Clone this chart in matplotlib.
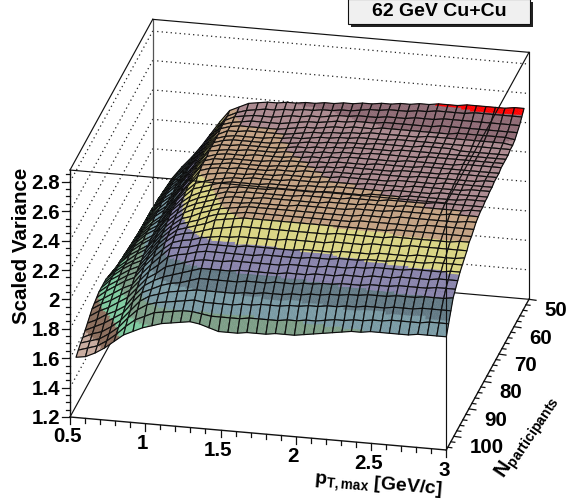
import matplotlib
matplotlib.use("Agg")
import matplotlib.pyplot as plt
import numpy as np
from matplotlib.collections import PolyCollection
from matplotlib.patches import Rectangle

plt.rcParams["font.family"] = ["Liberation Sans", "DejaVu Sans"]
plt.rcParams["mathtext.fontset"] = "custom"
plt.rcParams["mathtext.rm"] = "Liberation Sans:bold"
plt.rcParams["mathtext.bf"] = "Liberation Sans:bold"
plt.rcParams["mathtext.it"] = "Liberation Sans:bold"

TITLE = "62 GeV Cu+Cu"
Z_LABEL = "Scaled Variance"
X_LABEL = r"$\mathrm{p_{T,max}}$ [GeV/c]"
N_LABEL = r"$\mathrm{N_{participants}}$"

X_RANGE = (0.5, 3.0)
N_RANGE = (105.0, 50.0)
Z_RANGE = (1.2, 2.88)

X_TICKS = [0.5, 1, 1.5, 2, 2.5, 3]
X_TICK_LABELS = ["0.5", "1", "1.5", "2", "2.5", "3"]
N_TICKS = [100, 90, 80, 70, 60, 50]
Z_TICKS = [1.2, 1.4, 1.6, 1.8, 2, 2.2, 2.4, 2.6, 2.8]
Z_TICK_LABELS = ["1.2", "1.4", "1.6", "1.8", "2", "2.2", "2.4", "2.6", "2.8"]

# colour bands of the surface (edges in z, one colour more than edges)
BAND_EDGES = [1.681, 1.773, 1.866, 1.958, 2.05, 2.142, 2.234, 2.327, 2.39, 2.46, 2.535]
BAND_COLORS = ["#c9ac9f", "#8c6e5d", "#7fcba0", "#7d9e87", "#7a9ba5", "#637a85",
               "#8984ac", "#dad584", "#c4a283", "#ac8a90", "#8f6b75", "#ff0000"]

# surface nodes: one row per N value (front to back), one column per pT,max value
X_NODES = np.linspace(0.54, 3.0, 40)
N_NODES = np.linspace(105.0, 53.3, 35)
Z_ROWS = [
    [1.61,1.62,1.65,1.69,1.74,1.79,1.82,1.85,1.87,1.89,1.90,1.91,1.92,1.91,1.89,1.87,1.87,1.87,1.88,1.88,1.88,1.89,1.89,1.89,1.90,1.91,1.92,1.93,1.94,1.95,1.95,1.96,1.96,1.96,1.96,1.96,1.97,1.97,1.97,1.97],
    [1.63,1.65,1.67,1.71,1.76,1.82,1.87,1.90,1.93,1.94,1.95,1.96,1.96,1.95,1.94,1.94,1.94,1.94,1.95,1.95,1.95,1.95,1.96,1.96,1.97,1.97,1.98,1.99,1.99,2.00,2.00,2.01,2.01,2.02,2.02,2.02,2.02,2.03,2.03,2.03],
    [1.65,1.67,1.69,1.73,1.78,1.85,1.91,1.95,1.97,1.98,1.99,2.00,2.01,2.00,2.00,2.00,2.00,2.01,2.01,2.02,2.02,2.02,2.03,2.03,2.04,2.04,2.05,2.05,2.06,2.06,2.07,2.07,2.07,2.08,2.08,2.08,2.09,2.09,2.09,2.09],
    [1.66,1.69,1.71,1.75,1.80,1.87,1.94,1.98,2.00,2.02,2.03,2.04,2.05,2.05,2.05,2.05,2.05,2.06,2.06,2.07,2.07,2.07,2.08,2.08,2.09,2.09,2.10,2.10,2.11,2.11,2.12,2.12,2.12,2.13,2.13,2.13,2.14,2.14,2.14,2.15],
    [1.68,1.71,1.74,1.78,1.82,1.90,1.97,2.00,2.03,2.05,2.06,2.08,2.10,2.10,2.10,2.10,2.10,2.11,2.11,2.11,2.12,2.12,2.12,2.13,2.13,2.14,2.14,2.15,2.15,2.15,2.16,2.16,2.16,2.17,2.17,2.17,2.17,2.18,2.18,2.18],
    [1.70,1.73,1.77,1.80,1.84,1.92,1.99,2.03,2.06,2.08,2.10,2.12,2.14,2.14,2.14,2.14,2.15,2.15,2.15,2.15,2.15,2.16,2.16,2.16,2.17,2.17,2.17,2.18,2.18,2.18,2.19,2.19,2.19,2.20,2.20,2.20,2.20,2.21,2.21,2.21],
    [1.72,1.76,1.79,1.83,1.87,1.94,2.01,2.05,2.10,2.12,2.14,2.16,2.17,2.17,2.17,2.18,2.18,2.18,2.18,2.18,2.18,2.19,2.19,2.19,2.19,2.20,2.20,2.20,2.21,2.21,2.22,2.22,2.22,2.22,2.23,2.23,2.23,2.23,2.24,2.24],
    [1.74,1.78,1.81,1.85,1.89,1.96,2.03,2.08,2.14,2.16,2.17,2.19,2.20,2.20,2.20,2.20,2.20,2.20,2.21,2.21,2.21,2.21,2.21,2.22,2.22,2.22,2.23,2.23,2.23,2.24,2.24,2.24,2.25,2.25,2.25,2.25,2.26,2.26,2.26,2.26],
    [1.75,1.79,1.83,1.87,1.90,1.98,2.05,2.11,2.17,2.18,2.19,2.21,2.22,2.22,2.22,2.22,2.23,2.23,2.23,2.23,2.23,2.23,2.24,2.24,2.24,2.24,2.25,2.25,2.25,2.25,2.26,2.26,2.26,2.26,2.27,2.27,2.27,2.27,2.27,2.28],
    [1.76,1.81,1.85,1.89,1.92,2.00,2.07,2.13,2.18,2.20,2.21,2.23,2.24,2.25,2.25,2.26,2.26,2.26,2.26,2.26,2.27,2.27,2.27,2.27,2.27,2.28,2.28,2.28,2.28,2.29,2.29,2.29,2.29,2.30,2.30,2.30,2.30,2.30,2.30,2.30],
    [1.77,1.82,1.86,1.90,1.93,2.01,2.09,2.15,2.20,2.22,2.23,2.25,2.27,2.28,2.29,2.30,2.30,2.30,2.30,2.30,2.30,2.30,2.30,2.30,2.30,2.31,2.31,2.31,2.31,2.31,2.31,2.32,2.32,2.32,2.32,2.32,2.32,2.32,2.33,2.33],
    [1.77,1.83,1.87,1.91,1.94,2.02,2.10,2.16,2.21,2.23,2.25,2.27,2.30,2.31,2.32,2.33,2.33,2.33,2.33,2.33,2.33,2.33,2.33,2.33,2.33,2.33,2.33,2.33,2.33,2.33,2.33,2.34,2.34,2.34,2.34,2.34,2.34,2.34,2.34,2.34],
    [1.77,1.83,1.88,1.92,1.95,2.03,2.11,2.17,2.22,2.24,2.26,2.29,2.31,2.32,2.33,2.34,2.34,2.34,2.34,2.34,2.34,2.34,2.34,2.34,2.34,2.34,2.34,2.35,2.35,2.35,2.35,2.35,2.35,2.35,2.36,2.36,2.36,2.36,2.36,2.36],
    [1.77,1.83,1.88,1.92,1.96,2.04,2.12,2.18,2.23,2.25,2.28,2.30,2.32,2.33,2.34,2.35,2.35,2.35,2.35,2.35,2.35,2.35,2.35,2.35,2.35,2.35,2.35,2.36,2.36,2.36,2.36,2.37,2.37,2.37,2.37,2.37,2.37,2.37,2.38,2.38],
    [1.76,1.83,1.88,1.93,1.97,2.05,2.13,2.19,2.24,2.27,2.29,2.31,2.33,2.34,2.34,2.35,2.35,2.35,2.35,2.35,2.36,2.36,2.36,2.36,2.36,2.36,2.37,2.37,2.37,2.37,2.38,2.38,2.38,2.38,2.38,2.38,2.39,2.39,2.39,2.39],
    [1.75,1.83,1.89,1.93,1.97,2.06,2.14,2.20,2.25,2.28,2.30,2.32,2.34,2.35,2.35,2.35,2.36,2.36,2.36,2.36,2.36,2.36,2.36,2.37,2.37,2.37,2.37,2.38,2.38,2.38,2.38,2.39,2.39,2.39,2.39,2.39,2.39,2.39,2.40,2.40],
    [1.74,1.82,1.89,1.94,1.98,2.07,2.15,2.21,2.26,2.29,2.31,2.33,2.35,2.35,2.36,2.36,2.36,2.36,2.36,2.36,2.37,2.37,2.37,2.37,2.37,2.38,2.38,2.38,2.38,2.39,2.39,2.39,2.39,2.39,2.40,2.40,2.40,2.40,2.40,2.40],
    [1.73,1.82,1.89,1.94,1.98,2.07,2.16,2.22,2.27,2.30,2.32,2.34,2.35,2.36,2.36,2.36,2.36,2.37,2.37,2.37,2.37,2.37,2.38,2.38,2.38,2.38,2.38,2.39,2.39,2.39,2.39,2.40,2.40,2.40,2.40,2.40,2.40,2.41,2.41,2.41],
    [1.72,1.82,1.89,1.95,1.99,2.08,2.16,2.23,2.29,2.31,2.33,2.35,2.36,2.36,2.36,2.36,2.37,2.37,2.37,2.37,2.38,2.38,2.38,2.39,2.39,2.39,2.39,2.39,2.39,2.40,2.40,2.40,2.40,2.40,2.41,2.41,2.41,2.41,2.41,2.41],
    [1.72,1.81,1.89,1.95,1.99,2.08,2.17,2.24,2.30,2.32,2.34,2.35,2.36,2.36,2.37,2.37,2.37,2.37,2.38,2.38,2.38,2.38,2.39,2.39,2.39,2.39,2.40,2.40,2.40,2.40,2.40,2.41,2.41,2.41,2.41,2.41,2.41,2.42,2.42,2.42],
    [1.71,1.81,1.89,1.95,2.00,2.09,2.17,2.25,2.32,2.34,2.35,2.36,2.36,2.36,2.37,2.37,2.37,2.38,2.38,2.38,2.38,2.39,2.39,2.40,2.40,2.40,2.40,2.40,2.40,2.41,2.41,2.41,2.41,2.41,2.42,2.42,2.42,2.42,2.42,2.42],
    [1.71,1.81,1.89,1.95,2.00,2.09,2.17,2.25,2.33,2.35,2.36,2.36,2.37,2.37,2.37,2.37,2.38,2.38,2.38,2.39,2.39,2.39,2.40,2.40,2.40,2.40,2.41,2.41,2.41,2.41,2.41,2.42,2.42,2.42,2.42,2.42,2.42,2.42,2.43,2.43],
    [1.70,1.81,1.89,1.96,2.01,2.10,2.18,2.26,2.34,2.35,2.36,2.37,2.37,2.37,2.37,2.37,2.38,2.38,2.39,2.39,2.39,2.40,2.40,2.41,2.41,2.41,2.41,2.41,2.41,2.42,2.42,2.42,2.42,2.42,2.43,2.43,2.43,2.43,2.43,2.43],
    [1.70,1.80,1.89,1.96,2.01,2.10,2.18,2.26,2.34,2.36,2.36,2.37,2.37,2.37,2.37,2.38,2.38,2.39,2.39,2.39,2.40,2.40,2.41,2.41,2.41,2.41,2.42,2.42,2.42,2.42,2.42,2.43,2.43,2.43,2.43,2.43,2.43,2.43,2.43,2.43],
    [1.69,1.80,1.89,1.96,2.02,2.10,2.18,2.27,2.34,2.36,2.37,2.37,2.37,2.38,2.38,2.38,2.38,2.39,2.39,2.40,2.40,2.41,2.41,2.42,2.42,2.42,2.42,2.42,2.42,2.43,2.43,2.43,2.43,2.43,2.43,2.44,2.44,2.44,2.44,2.44],
    [1.69,1.80,1.89,1.97,2.02,2.11,2.19,2.27,2.35,2.36,2.37,2.37,2.38,2.38,2.38,2.38,2.39,2.39,2.40,2.40,2.41,2.41,2.42,2.42,2.42,2.43,2.43,2.43,2.43,2.43,2.43,2.44,2.44,2.44,2.44,2.44,2.44,2.44,2.44,2.44],
    [1.68,1.80,1.89,1.97,2.02,2.11,2.19,2.27,2.35,2.37,2.37,2.38,2.38,2.38,2.38,2.38,2.39,2.40,2.40,2.41,2.41,2.42,2.42,2.43,2.43,2.43,2.43,2.43,2.44,2.44,2.44,2.44,2.44,2.44,2.44,2.44,2.44,2.44,2.44,2.44],
    [1.68,1.80,1.89,1.97,2.03,2.11,2.19,2.28,2.35,2.37,2.38,2.38,2.38,2.38,2.38,2.39,2.39,2.40,2.41,2.41,2.42,2.42,2.43,2.43,2.43,2.44,2.44,2.44,2.44,2.44,2.45,2.45,2.45,2.45,2.44,2.44,2.44,2.44,2.44,2.44],
    [1.68,1.80,1.89,1.97,2.03,2.12,2.20,2.28,2.35,2.37,2.38,2.38,2.38,2.38,2.39,2.39,2.40,2.40,2.41,2.42,2.42,2.43,2.43,2.44,2.44,2.44,2.44,2.45,2.45,2.45,2.45,2.45,2.45,2.45,2.45,2.45,2.45,2.45,2.45,2.45],
    [1.67,1.80,1.89,1.97,2.03,2.12,2.20,2.28,2.35,2.38,2.38,2.39,2.39,2.39,2.39,2.39,2.40,2.41,2.42,2.42,2.43,2.43,2.44,2.44,2.45,2.45,2.45,2.45,2.45,2.45,2.46,2.46,2.46,2.46,2.46,2.46,2.46,2.46,2.46,2.45],
    [1.67,1.79,1.89,1.97,2.03,2.12,2.20,2.28,2.36,2.38,2.39,2.39,2.39,2.39,2.39,2.40,2.41,2.42,2.42,2.43,2.44,2.44,2.45,2.45,2.45,2.46,2.46,2.46,2.46,2.46,2.46,2.46,2.46,2.47,2.47,2.47,2.47,2.47,2.47,2.46],
    [1.67,1.79,1.89,1.97,2.03,2.12,2.20,2.28,2.36,2.38,2.39,2.40,2.40,2.40,2.40,2.41,2.42,2.43,2.43,2.44,2.45,2.45,2.46,2.46,2.46,2.47,2.47,2.47,2.47,2.47,2.47,2.48,2.48,2.48,2.48,2.48,2.48,2.48,2.48,2.48],
    [1.66,1.79,1.88,1.96,2.03,2.12,2.20,2.28,2.36,2.39,2.40,2.41,2.41,2.41,2.42,2.43,2.43,2.44,2.44,2.45,2.46,2.46,2.47,2.47,2.47,2.48,2.48,2.48,2.49,2.49,2.49,2.50,2.50,2.50,2.50,2.50,2.50,2.50,2.50,2.50],
    [1.66,1.78,1.88,1.96,2.03,2.11,2.20,2.28,2.36,2.39,2.41,2.42,2.43,2.43,2.44,2.44,2.45,2.45,2.46,2.46,2.47,2.47,2.48,2.49,2.49,2.50,2.50,2.50,2.51,2.51,2.52,2.52,2.52,2.52,2.53,2.53,2.53,2.53,2.53,2.53],
    [1.66,1.78,1.88,1.96,2.03,2.11,2.20,2.29,2.37,2.40,2.43,2.44,2.45,2.45,2.46,2.46,2.47,2.47,2.48,2.48,2.49,2.49,2.50,2.50,2.51,2.51,2.52,2.52,2.53,2.53,2.54,2.54,2.54,2.55,2.55,2.55,2.55,2.55,2.56,2.56],
]

SUBDIV = 4
TICK_FONT = 14.8


def project(x, n, z):
    """3D box -> picture pixels (parallel projection, same as the ROOT canvas)."""
    u = (np.asarray(x, float) - X_RANGE[0]) / (X_RANGE[1] - X_RANGE[0])
    v = (N_RANGE[0] - np.asarray(n, float)) / (N_RANGE[0] - N_RANGE[1])
    w = np.asarray(z, float) - Z_RANGE[0]
    return 70 + 376.3 * u + 82.7 * v, 417 + 33 * u - 150.7 * v - 147 * w


def line3d(ax, p0, p1, **kw):
    px, py = project(*zip(p0, p1))
    ax.plot(px, py, solid_capstyle="projecting", **kw)


def draw_surface(ax):
    z_grid = np.array(Z_ROWS)
    band_rgb = [matplotlib.colors.to_rgb(c) for c in BAND_COLORS]
    t = np.linspace(0, 1, SUBDIV + 1)
    polys, faces, edges, widths = [], [], [], []
    # back row first, left column first: the camera sits at high pT, high N
    for j in range(len(N_NODES) - 2, -1, -1):
        for i in range(len(X_NODES) - 1):
            sx = X_NODES[i] + t * (X_NODES[i + 1] - X_NODES[i])
            sn = N_NODES[j] + t * (N_NODES[j + 1] - N_NODES[j])
            gx, gn = np.meshgrid(sx, sn)
            a, b = np.meshgrid(t, t)
            gz = (z_grid[j, i] * (1 - a) * (1 - b) + z_grid[j, i + 1] * a * (1 - b)
                  + z_grid[j + 1, i] * (1 - a) * b + z_grid[j + 1, i + 1] * a * b)
            px, py = project(gx, gn, gz)
            for q in range(SUBDIV):
                for r in range(SUBDIV):
                    idx = [(q, r), (q, r + 1), (q + 1, r + 1), (q + 1, r)]
                    polys.append([(px[k], py[k]) for k in idx])
                    mean_z = np.mean([gz[k] for k in idx])
                    col = band_rgb[np.searchsorted(BAND_EDGES, mean_z)]
                    faces.append(col)
                    edges.append(col)
                    widths.append(0.35)
            outline = [(0, 0), (0, SUBDIV), (SUBDIV, SUBDIV), (SUBDIV, 0)]
            polys.append([(px[k], py[k]) for k in outline])
            faces.append((0, 0, 0, 0))
            edges.append((0.05, 0.05, 0.05, 1))
            widths.append(0.85)
    ax.add_collection(PolyCollection(polys, facecolors=faces, edgecolors=edges,
                                     linewidths=widths, zorder=3))


fig = plt.figure(figsize=(5.84, 5.01), dpi=100)
ax = fig.add_axes([0, 0, 1, 1])
ax.set_xlim(0, 584)
ax.set_ylim(501, 0)
ax.axis("off")

x0, x1 = X_RANGE
n0, n1 = N_RANGE
z0, z1 = Z_RANGE
frame = dict(color="#111111", lw=0.85, zorder=2)
dots = dict(color="#222222", lw=0.9, ls=(0, (1, 2.6)), zorder=1)

# walls: dotted z grid, back box lines
for zt in Z_TICKS[1:]:
    line3d(ax, (x0, n0, zt), (x0, n1, zt), **dots)
    line3d(ax, (x0, n1, zt), (x1, n1, zt), **dots)
line3d(ax, (x0, n1, z0), (x0, n1, z1), color="#555555", lw=0.9, zorder=2)
line3d(ax, (x1, n1, z0), (x1, n1, z1), **frame)
line3d(ax, (x0, n0, z1), (x0, n1, z1), **frame)
line3d(ax, (x0, n1, z1), (x1, n1, z1), **frame)
line3d(ax, (x0, n0, z0), (x0, n1, z0), **frame)
line3d(ax, (x0, n1, z0), (x1, n1, z0), **frame)

draw_surface(ax)

# front of the box goes over the surface
front = dict(color="#111111", lw=0.85, zorder=4)
line3d(ax, (x0, n0, z1), (x1, n0, z1), **front)
line3d(ax, (x1, n0, z1), (x1, n1, z1), **front)
line3d(ax, (x1, n0, z0), (x1, n0, z1), **front)
line3d(ax, (x0, n0, z0), (x0, n0, z1), color="#111111", lw=1.0, zorder=4)
line3d(ax, (x0, n0, z0), (x1, n0, z0), color="#111111", lw=1.0, zorder=4)
line3d(ax, (x1, n0, z0), (x1, n1, z0), color="#111111", lw=1.0, zorder=4)

# z axis ticks and labels
tick_kw = dict(color="#111111", lw=0.9, zorder=4)
for zt in np.arange(1.2, 2.86, 0.05):
    px, py = project(x0, n0, zt)
    major = abs(zt * 5 - round(zt * 5)) < 1e-6
    ax.plot([px - (8 if major else 4), px], [py, py], **tick_kw)
for zt, lab in zip(Z_TICKS, Z_TICK_LABELS):
    px, py = project(x0, n0, zt)
    ax.text(px - 10, py, lab, ha="right", va="center_baseline", fontsize=TICK_FONT, fontweight="bold")

# pT axis ticks and labels
for xt in np.arange(0.5, 3.01, 0.1):
    px, py = project(xt, n0, z0)
    major = abs(xt * 2 - round(xt * 2)) < 1e-6
    ax.plot([px, px], [py, py + (7 if major else 4.5)], **tick_kw)
for xt, lab in zip(X_TICKS, X_TICK_LABELS):
    px, py = project(xt, n0, z0)
    ax.text(px - 2.5, py + 18, lab, ha="center", va="center_baseline", fontsize=TICK_FONT, fontweight="bold")

# N axis ticks and labels
for nt in range(50, 105, 2):
    px, py = project(x1, nt, z0)
    ax.plot([px, px + (7 if nt % 10 == 0 else 4)], [py, py + (1 if nt % 10 == 0 else 0.5)], **tick_kw)
for nt in N_TICKS:
    px, py = project(x1, nt, z0)
    ax.text(px + 15.5, py + 9.5, str(nt), ha="left", va="center_baseline", fontsize=TICK_FONT, fontweight="bold")

ax.text(22, 246, Z_LABEL, rotation=90, ha="center", va="center", fontsize=14.8, fontweight="bold")
ax.text(378, 485, X_LABEL, rotation=-5, rotation_mode="anchor", ha="center", va="center",
        fontsize=14, fontweight="bold")
ax.text(528, 437, N_LABEL, rotation=56, rotation_mode="anchor", ha="center", va="center",
        fontsize=14.5, fontweight="bold")

# title box with its shadow
ax.add_patch(Rectangle((351, 2), 182, 25, facecolor="#222222", edgecolor="none", zorder=5))
ax.add_patch(Rectangle((348.3, -1), 181.7, 25.3, facecolor="#f0f0f0", edgecolor="#111111", lw=0.8, zorder=6))
ax.text(439, 11.5, TITLE, ha="center", va="center", fontsize=14, fontweight="bold", zorder=7)

fig.savefig("out.png", dpi=100)
